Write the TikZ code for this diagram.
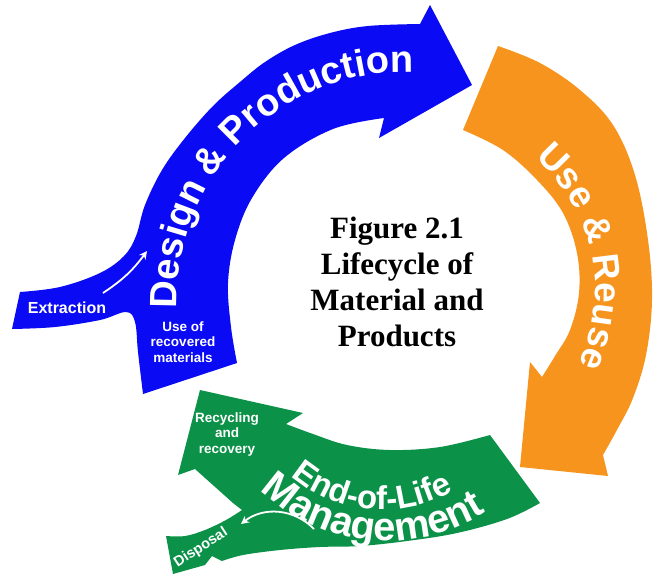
\documentclass[tikz,border=0pt]{standalone}
\usepackage{fontspec}
\setmainfont{Liberation Serif}
\setsansfont{Liberation Sans}
\usetikzlibrary{decorations.text,arrows.meta}

\definecolor{designblue}{RGB}{10,10,245}
\definecolor{useorange}{RGB}{247,148,30}
\definecolor{eolgreen}{RGB}{12,146,72}

\newcommand\bandfont[1]{\sffamily\bfseries\fontsize{#1}{#1}\selectfont\color{white}}

\begin{document}
\begin{tikzpicture}[x=1pt,y=-1pt,
                    tag/.style={text=white,align=center,inner sep=0pt,
                                font=\sffamily\bfseries\fontsize{13.5}{15.5}\selectfont},
                    flow/.style={white,line width=1.8pt,-{Stealth[length=8pt,width=8pt]}},
                    band/.style={decorate,decoration={text along path,text align=center}}]
  \useasboundingbox (0,0) rectangle (655,576);
  \fill[white] (0,0) rectangle (655,576);

  % design & production, with the extraction arm coming in from the left
  \fill[designblue]
    plot[smooth,tension=0.6] coordinates {(20,292) (60,287) (100,273) (124,256) (136,236)
      (145,205) (162,170) (185,138) (213,106) (240,82) (265,62) (295,45) (330,33) (368,26) (420,24)}
    -- (430,5) -- (472,85) -- (379,138) -- (384,118)
    -- plot[smooth,tension=0.6] coordinates {(384,118) (333,129) (284,158) (252,198) (235,240)
      (228,283) (231,327) (237,363)}
    -- (143,394)
    -- plot[smooth,tension=0.6] coordinates {(143,394) (138,352) (135,322) (126,312) (100,320)
      (55,327) (12,329)}
    -- cycle;

  % use & reuse, head cut flat at the bottom
  \fill[useorange] (463,130) -- (498,46)
    -- plot[smooth,tension=0.6] coordinates {(498,46) (540,63) (580,90) (613,125) (635,175)
      (648,240) (652,300) (646,355) (633,398) (618,428) (603,455)}
    -- (608,476) -- (520,467) -- (530,362)
    -- plot[smooth,tension=0.6] coordinates {(542,377) (555,356) (570,330) (579,293) (577,253)
      (563,213) (537,180) (503,150) (463,130)}
    -- cycle;

  % end-of-life, splitting into recycling (up) and disposal (down-left)
  \fill[eolgreen] (490,435) -- (540,503)
    -- plot[smooth,tension=0.6] coordinates {(540,503) (507,519) (457,533) (407,541) (360,546)
      (320,547) (280,550) (243,555) (222,561)}
    -- (212,556) -- (205,565) -- (173,574)
    -- plot[smooth,tension=0.6] coordinates {(166,536) (185,536) (205,530) (226,520) (242,510)}
    -- (233,503) -- (195,469) -- (178,475) -- (200,390) -- (303,413) -- (286,424)
    -- plot[smooth,tension=0.6] coordinates {(286,424) (313,434) (347,445) (390,450) (440,447)
      (490,435)}
    -- cycle;

  % band titles sit on circle arcs (smooth plots trip the text decoration)
  \path[band,decoration={text={|\bandfont{38}|Design {\&} Production}},shift={(405,300)}]
    (177:228) arc[start angle=177,end angle=273,radius=228];
  \path[band,decoration={text={|\bandfont{37}|Use {\&} Reuse}},shift={(420,290)}]
    (-50:175) arc[start angle=-50,end angle=26,radius=175];
  \path[band,decoration={text={|\bandfont{33}|End-of-Life}},shift={(382,370)}]
    (133:140) arc[start angle=133,end angle=57,radius=140];
  \path[band,decoration={text={|\bandfont{40}|Management}},shift={(387,357)}]
    (137:184) arc[start angle=137,end angle=54,radius=184];

  \node[tag,font=\sffamily\bfseries\fontsize{16}{16}\selectfont] (extraction) at (67,308) {Extraction};
  \node[tag] (recovered) at (183,342) {Use of\\recovered\\materials};
  \node[tag] (recycling) at (227,434) {Recycling\\and\\recovery};
  \node[tag,font=\sffamily\bfseries\fontsize{14.5}{14.5}\selectfont,rotate=33] (disposal) at (201,548) {Disposal};

  \node[align=center,font=\bfseries\fontsize{31}{36}\selectfont] (title) at (397,282)
    {Figure 2.1\\Lifecycle of\\Material and\\Products};

  \coordinate (extr-from) at (103,293);
  \coordinate (extr-to) at (147,251);
  \coordinate (disp-from) at (314,529);
  \coordinate (disp-to) at (241,524);
  \draw[flow] (extr-from) to[bend right=10] (extr-to);
  \draw[flow] (disp-from) to[bend right=42] (disp-to);
\end{tikzpicture}
\end{document}
